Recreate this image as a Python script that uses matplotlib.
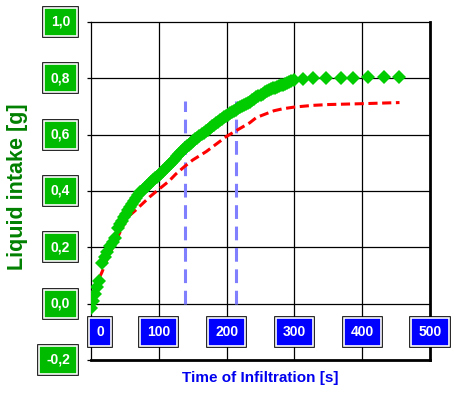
import matplotlib
matplotlib.use("Agg")
import matplotlib.pyplot as plt

plt.rcParams['font.family'] = ['Liberation Sans', 'DejaVu Sans']

# measured liquid intake (green diamonds)
green_t = [0, 3, 6, 9, 12, 16, 20, 24, 28, 32, 35,
           40, 43, 46, 49, 52, 55, 58, 61, 64, 67, 70, 73, 76, 79, 82, 85, 88,
           91, 94, 97, 100, 103, 106, 109, 112, 115, 118, 121, 124, 127, 130,
           133, 136, 139, 142, 145, 148, 151, 154, 157, 160, 163, 166, 169,
           172, 175, 178, 181, 184, 187, 190, 193, 196, 199, 202, 205, 208,
           211, 214, 217, 220, 223, 226, 229, 232, 235, 238, 241, 244, 247,
           250, 253, 256, 259, 262, 265, 268, 271, 274, 277, 280, 283, 286,
           289, 292, 295,
           300, 312, 328, 347, 368, 387, 409, 432, 454]
green_y = [-0.015, 0.01, 0.035, 0.06, 0.08, 0.145, 0.165, 0.185, 0.205, 0.22, 0.232,
           0.270, 0.282, 0.294, 0.307, 0.320, 0.331, 0.342, 0.353, 0.364, 0.375,
           0.386, 0.396, 0.404, 0.411, 0.418, 0.425, 0.432, 0.439, 0.445, 0.451,
           0.458, 0.465, 0.472, 0.479, 0.486, 0.493, 0.500, 0.508, 0.515, 0.523,
           0.530, 0.538, 0.545, 0.552, 0.558, 0.565, 0.571, 0.577, 0.583, 0.589,
           0.595, 0.601, 0.607, 0.613, 0.618, 0.624, 0.629, 0.635, 0.640, 0.645,
           0.651, 0.656, 0.661, 0.666, 0.671, 0.676, 0.680, 0.685, 0.689, 0.693,
           0.697, 0.701, 0.705, 0.709, 0.713, 0.717, 0.722, 0.727, 0.732, 0.737,
           0.742, 0.746, 0.750, 0.754, 0.757, 0.761, 0.764, 0.767, 0.770, 0.773,
           0.776, 0.778, 0.781, 0.784, 0.787, 0.790,
           0.795, 0.797, 0.80, 0.80, 0.80, 0.801, 0.803, 0.806, 0.806]

# model curve (red dashed)
red_t = [0, 5, 10, 16, 25, 35, 45, 54, 65, 76, 87, 99, 115, 125, 138, 150, 160,
         170, 185, 200, 214, 234, 244, 258, 270, 283, 300, 327, 351, 400, 455]
red_y = [0.0, 0.04, 0.08, 0.111, 0.165, 0.214, 0.265, 0.307, 0.33, 0.355, 0.38,
         0.404, 0.435, 0.46, 0.487, 0.51, 0.525, 0.54, 0.567, 0.594, 0.614, 0.642,
         0.661, 0.674, 0.685, 0.692, 0.698, 0.704, 0.707, 0.71, 0.714]

# vertical markers
vline_t = [138, 214]
vline_top = 0.72

x_ticks = [0, 100, 200, 300, 400, 500]
y_ticks = [-0.2, 0.0, 0.2, 0.4, 0.6, 0.8, 1.0]
y_tick_labels = ['-0,2', '0,0', '0,2', '0,4', '0,6', '0,8', '1,0']


def boxed(ax, x, y, s, fill, ha, dx=0, dy=0):
    # black shadow box behind, coloured box with white rim on top
    for fc, ec, pad, z in [('black', 'black', 0.58, 5), (fill, 'white', 0.5, 6)]:
        ax.annotate(s, (x, y), xytext=(dx, dy), textcoords='offset points',
                    ha=ha, va='center', fontsize=10, fontweight='bold',
                    color='white', annotation_clip=False, zorder=z,
                    bbox=dict(boxstyle='square,pad=%s' % pad, fc=fc, ec=ec, lw=1.2))


fig = plt.figure(figsize=(4.58, 3.96), dpi=100)
ax = fig.add_axes([91 / 458, 36 / 396, 339 / 458, 338 / 396])

ax.set_xlim(0, 500)
ax.set_ylim(-0.2, 1.0)

for t in x_ticks[1:-1]:
    ax.axvline(t, color='black', lw=0.9, zorder=1)
for v in y_ticks[1:-1]:
    ax.axhline(v, color='black', lw=0.9, zorder=1)

for t in vline_t:
    ax.plot([t, t], [0, vline_top], color='#8080FF', lw=2.2, dashes=(4.5, 2.5), zorder=2)

ax.plot(red_t, red_y, color='#FF0000', lw=2.2, dashes=(3, 1.5), zorder=3)
ax.plot(green_t, green_y, linestyle='none', marker='D', markersize=7.5,
        color='#00CC00', markeredgewidth=0, zorder=4)

ax.set_xticks([])
ax.set_yticks(y_ticks)
ax.set_yticklabels([])
ax.tick_params(axis='y', direction='out', length=3, width=0.9)

ax.spines['left'].set_linewidth(0.9)
ax.spines['top'].set_linewidth(0.9)
ax.spines['right'].set_linewidth(2)
ax.spines['bottom'].set_linewidth(2)

for t in x_ticks:
    dx = 6.5 if t == 0 else 0
    boxed(ax, t, -0.1, str(t), '#0000FF', 'center', dx=dx)

for v, lab in zip(y_ticks, y_tick_labels):
    boxed(ax, 0, v, lab, '#00BB00', 'right', dx=-15)

fig.text(18 / 458, 1 - 187 / 396, 'Liquid intake [g]', rotation=90,
         ha='center', va='center', fontsize=15.5, fontweight='bold', color='#008000')
fig.text(260 / 458, 1 - 378 / 396, 'Time of Infiltration [s]',
         ha='center', va='center', fontsize=11, fontweight='bold', color='#0000EE')

fig.savefig('out.png', dpi=100)
